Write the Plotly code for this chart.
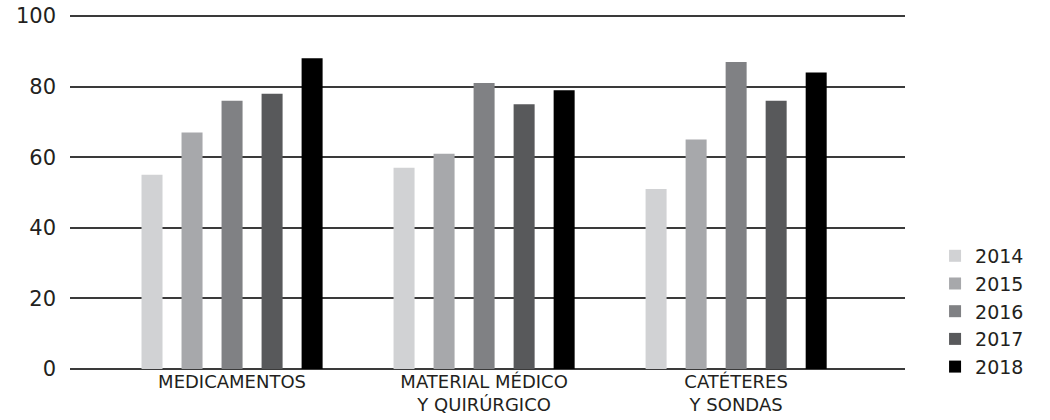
import plotly.graph_objects as go

categories = ["MEDICAMENTOS", "MATERIAL MÉDICO<br>Y QUIRÚRGICO", "CATÉTERES<br>Y SONDAS"]
years = ["2014", "2015", "2016", "2017", "2018"]
v2014 = [55, 57, 51]
v2015 = [67, 61, 65]
v2016 = [76, 81, 87]
v2017 = [78, 75, 76]
v2018 = [88, 79, 84]
colors = ["#d1d2d4", "#a7a8ab", "#808184", "#58595b", "#000000"]
y_ticks = [0, 20, 40, 60, 80, 100]

series = [v2014, v2015, v2016, v2017, v2018]
FONT = "DejaVu Sans"
TXT = "#231f20"

fig = go.Figure()
for name, vals, col in zip(years, series, colors):
    fig.add_trace(go.Bar(x=categories, y=vals, name=name,
                         marker=dict(color=col, line=dict(width=0))))

fig.update_layout(
    width=1050, height=420, autosize=False,
    margin=dict(l=70, r=145, t=14, b=51, pad=0),
    paper_bgcolor="white", plot_bgcolor="white",
    barmode="group", bargap=0.206, bargroupgap=0.475,
    font=dict(family=FONT, color=TXT, size=19),
    legend=dict(x=1.036, xanchor="left", y=0.372, yanchor="top",
                font=dict(family=FONT, size=19, color=TXT),
                bgcolor="rgba(0,0,0,0)", borderwidth=0),
    showlegend=True,
)
fig.update_xaxes(type="category", range=[-0.643, 2.67], showgrid=False,
                 zeroline=False, showline=False, ticks="", automargin=False,
                 ticklabelstandoff=0,
                 tickfont=dict(family=FONT, size=18, color=TXT))
fig.update_yaxes(range=[0, 100.57], tickvals=y_ticks, showgrid=True,
                 gridcolor="#3a3a3a", gridwidth=1.6, zeroline=True,
                 zerolinecolor="#3a3a3a", zerolinewidth=1.6, showline=False,
                 ticks="", ticklabelstandoff=13, automargin=False,
                 tickfont=dict(family=FONT, size=21, color=TXT))

fig.write_html("out.html")
